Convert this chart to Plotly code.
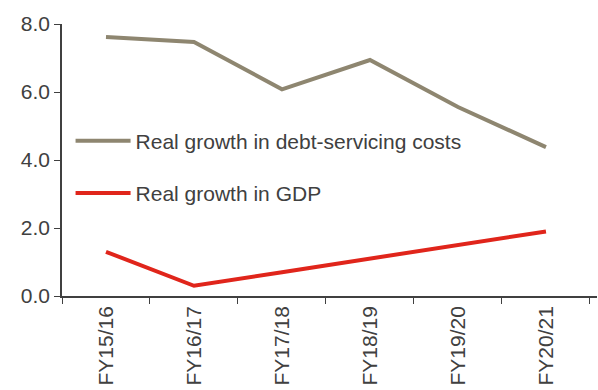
import plotly.graph_objects as go

categories = ["FY15/16", "FY16/17", "FY17/18", "FY18/19", "FY19/20", "FY20/21"]
debt_costs = [7.62, 7.47, 6.08, 6.94, 5.56, 4.38]
gdp = [1.3, 0.3, 0.7, 1.1, 1.5, 1.9]
y_ticks = [0, 2, 4, 6, 8]

fig = go.Figure()
fig.add_trace(go.Scatter(x=categories, y=debt_costs, mode="lines",
                         name="Real growth in debt-servicing costs",
                         line=dict(color="#8E8670", width=4), legendgroup="a"))
fig.add_trace(go.Scatter(x=categories, y=gdp, mode="lines",
                         name="Real growth in GDP",
                         line=dict(color="#E0251B", width=4), legendgroup="b"))

fig.update_layout(
    width=598, height=390,
    margin=dict(l=62, r=1, t=24, b=94),
    paper_bgcolor="white", plot_bgcolor="white",
    font=dict(family="Liberation Sans, Arial, sans-serif", size=21, color="#404040"),
    showlegend=True,
    legend=dict(x=0.016, y=0.645, xanchor="left", yanchor="top",
                bgcolor="rgba(0,0,0,0)", tracegroupgap=22, itemwidth=55,
                font=dict(size=21, color="#404040")),
)
fig.update_xaxes(type="category", range=[-0.5, 5.58], showline=True, linecolor="#404040",
                 linewidth=1.5, ticks="outside", ticklen=6, tickcolor="#404040",
                 tickson="boundaries", tickangle=-90, showgrid=False, zeroline=False)
fig.update_yaxes(range=[0, 8], tickvals=y_ticks, tickformat=".1f", showline=True,
                 linecolor="#404040", linewidth=1.5, ticks="outside", ticklen=6,
                 tickcolor="#404040", showgrid=False, zeroline=False)

fig.write_html("out.html")
